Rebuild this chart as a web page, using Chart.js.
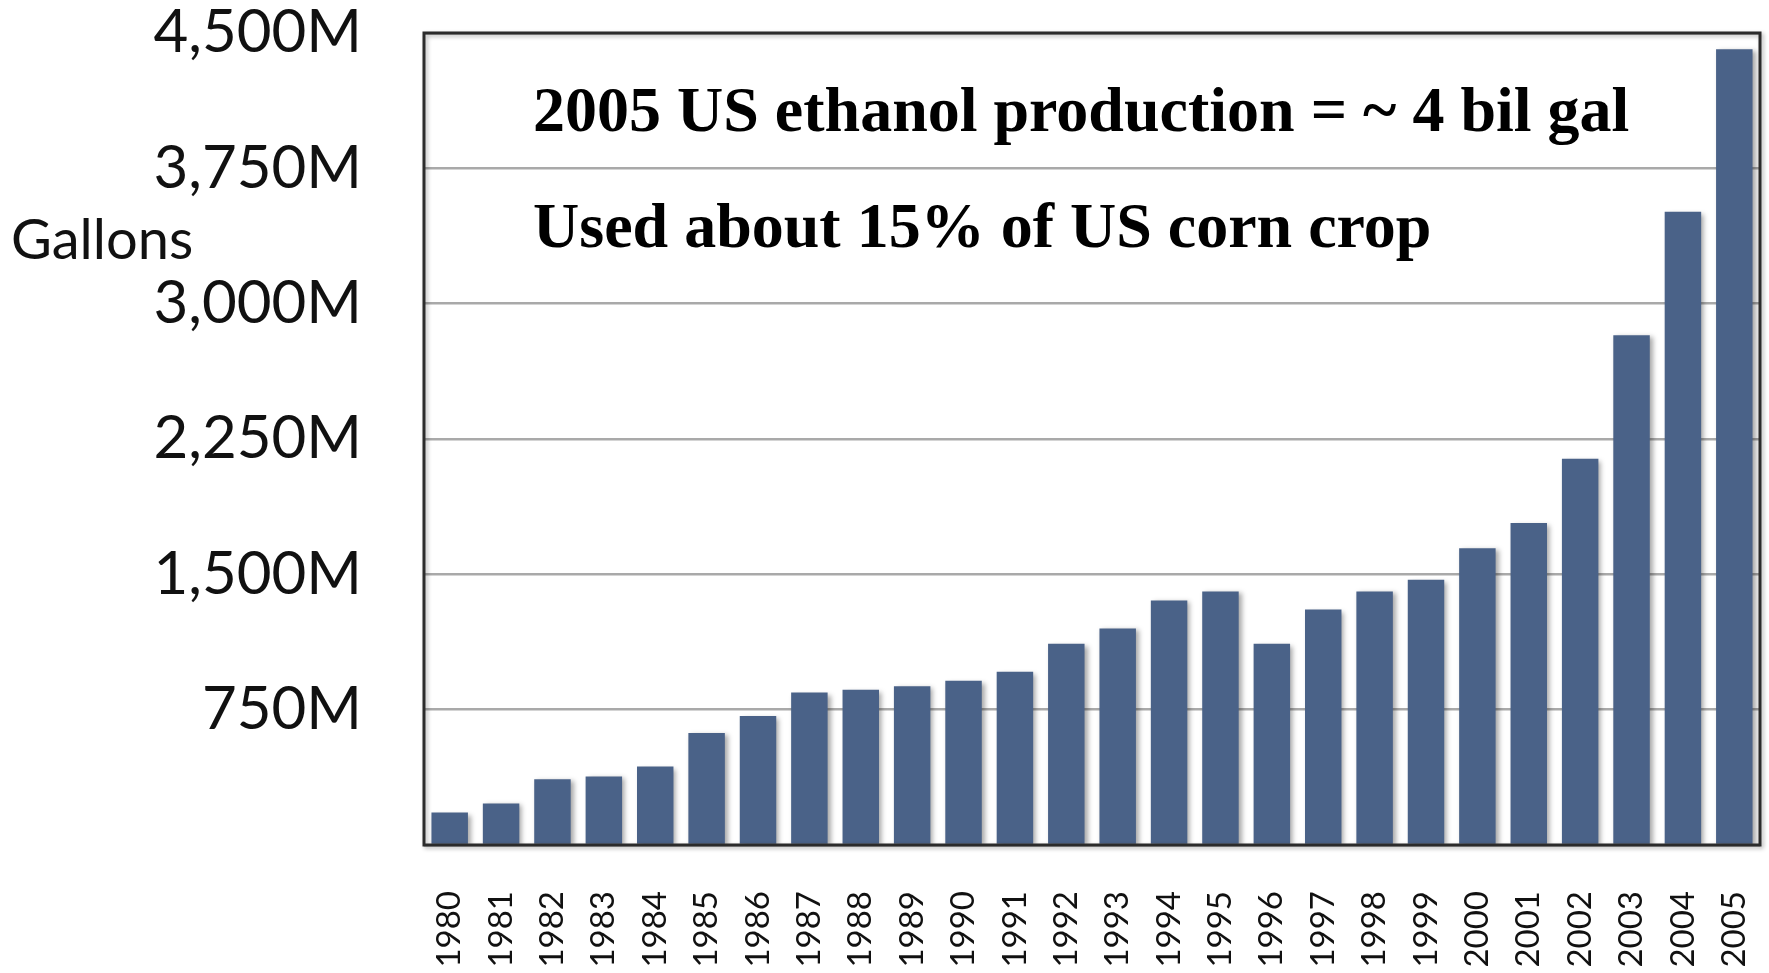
<!DOCTYPE html>
<html>
<head>
<meta charset="utf-8">
<title>US ethanol production</title>
<script src="https://cdn.jsdelivr.net/npm/chart.js@4/dist/chart.umd.min.js"></script>
<style>
	html, body { margin: 0; padding: 0; background: #fff; }
	#wrap { width: 1769px; height: 973px; }
</style>
</head>
<body>
<div id="wrap"><canvas id="ethanolChart" width="1769" height="973"></canvas></div>
<script>
// Annual US ethanol production, millions of gallons
const years = ['1980', '1981', '1982', '1983', '1984', '1985', '1986', '1987', '1988', '1989',
	'1990', '1991', '1992', '1993', '1994', '1995', '1996', '1997', '1998', '1999',
	'2000', '2001', '2002', '2003', '2004', '2005'];
const gallons = [180, 230, 365, 380, 435, 620, 715, 845, 860, 880,
	910, 960, 1115, 1200, 1355, 1405, 1115, 1305, 1405, 1470,
	1645, 1785, 2140, 2825, 3510, 4410];
const yTicks = [0, 750, 1500, 2250, 3000, 3750, 4500];
const yTickLabels = ['', '750M', '1,500M', '2,250M', '3,000M', '3,750M', '4,500M'];
const notes = ['2005 US ethanol production = ~ 4 bil gal', 'Used about 15% of US corn crop'];
const axisTitle = 'Gallons';

const barColor = '#4a6288';
const inkColor = '#111111';

// soft drop shadow under the bars
const barShadow = {
	id: 'barShadow',
	beforeDatasetsDraw(chart) {
		const ctx = chart.ctx;
		ctx.save();
		ctx.shadowColor = 'rgba(0, 0, 0, 0.35)';
		ctx.shadowBlur = 5;
		ctx.shadowOffsetX = 3;
		ctx.shadowOffsetY = 2;
	},
	afterDatasetsDraw(chart) {
		chart.ctx.restore();
	}
};

// dark box round the plot area, plus the side title and the two notes
const frameAndText = {
	id: 'frameAndText',
	afterDraw(chart) {
		const ctx = chart.ctx;
		const a = chart.chartArea;

		ctx.save();
		ctx.shadowColor = 'rgba(0, 0, 0, 0.3)';
		ctx.shadowBlur = 4;
		ctx.shadowOffsetX = 2;
		ctx.shadowOffsetY = 2;
		ctx.strokeStyle = '#2b2b2b';
		ctx.lineWidth = 3;
		ctx.strokeRect(a.left, a.top, a.right - a.left, a.bottom - a.top);
		ctx.restore();

		ctx.save();
		ctx.fillStyle = inkColor;
		ctx.textAlign = 'left';
		ctx.textBaseline = 'alphabetic';
		ctx.font = '56px Lato';
		ctx.fillText(axisTitle, 11, 259);

		ctx.fillStyle = '#000';
		ctx.font = 'bold 64px "Liberation Serif"';
		ctx.fillText(notes[0], 533, 131);
		ctx.fillText(notes[1], 533, 247);
		ctx.restore();
	}
};

let ctx = document.getElementById('ethanolChart').getContext('2d');
let chart = new Chart(ctx, {
	type: 'bar',
	data: {
		labels: years,
		datasets: [{
			data: gallons,
			backgroundColor: barColor,
			borderWidth: 0,
			barPercentage: 0.71,
			categoryPercentage: 1.0
		}]
	},
	options: {
		responsive: false,
		animation: false,
		layout: {
			padding: { top: 33, right: 9, left: 0, bottom: 0 }
		},
		plugins: {
			legend: { display: false },
			tooltip: { enabled: false }
		},
		scales: {
			x: {
				grid: { display: false, drawTicks: false },
				border: { display: false },
				ticks: {
					autoSkip: false,
					minRotation: 90,
					maxRotation: 90,
					padding: 46,
					color: inkColor,
					font: { family: 'Lato', size: 33 }
				},
				afterFit(scale) {
					scale.height = 128;
					scale.paddingLeft = 0;
					scale.paddingRight = 0;
				}
			},
			y: {
				min: 0,
				max: 4500,
				afterBuildTicks(scale) {
					scale.ticks = yTicks.map(v => ({ value: v }));
				},
				grid: {
					color: '#a9a9a9',
					lineWidth: 2.5,
					drawTicks: false
				},
				border: { display: false },
				ticks: {
					padding: 62,
					color: inkColor,
					font: { family: 'Lato', size: 60 },
					callback: (value) => yTickLabels[yTicks.indexOf(value)]
				},
				afterFit(scale) {
					scale.width = 424;
					scale.paddingTop = 0;
					scale.paddingBottom = 0;
				}
			}
		}
	},
	plugins: [barShadow, frameAndText]
});
</script>
</body>
</html>
